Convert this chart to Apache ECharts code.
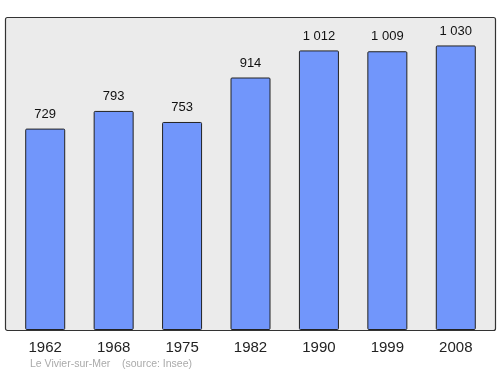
<!DOCTYPE html>
<html><head><meta charset="utf-8">
<script src="https://cdn.jsdelivr.net/npm/echarts@6/dist/echarts.min.js"></script>
<style>html,body{margin:0;padding:0;background:#fff}#c{width:500px;height:374px}</style>
</head><body><div id="c"></div>
<script>
const categories = ['1962','1968','1975','1982','1990','1999','2008'];
const population = [729, 793, 753, 914, 1012, 1009, 1030];
const valueLabels = ['729','793','753','914','1 012','1 009','1 030'];
const footer = 'Le Vivier-sur-Mer    (source: Insee)';

const chart = echarts.init(document.getElementById('c'), null, {renderer:'canvas'});
chart.setOption({
  animation: false,
  textStyle: {fontFamily: 'Liberation Sans, Arial, sans-serif'},
  graphic: [
    {type:'rect', z:-10, shape:{x:5.5, y:17.5, width:490, height:313, r:2},
     style:{fill:'#ebebeb', stroke:'#333', lineWidth:1.2}},
    {type:'text', left:30, top:359, style:{text:footer, fill:'#aaaaaa', fontSize:10.5, fontFamily:'Liberation Sans, Arial, sans-serif'}}
  ],
  grid: {left:11, width:479, top:17, bottom:44},
  xAxis: {type:'category', data:categories,
    axisLine:{show:false}, axisTick:{show:false},
    axisLabel:{fontSize:15, color:'#222', margin:10}},
  yAxis: {type:'value', min:0, max:1133, show:false, splitLine:{show:false}},
  series: [{type:'bar', data:population, barWidth:40,
    itemStyle:{color:'#7196fb', borderColor:'#222', borderWidth:1, borderRadius:1},
    label:{show:true, position:'top', distance:8, fontSize:13, color:'#111',
      formatter: p => valueLabels[p.dataIndex]}}]
});
</script></body></html>
